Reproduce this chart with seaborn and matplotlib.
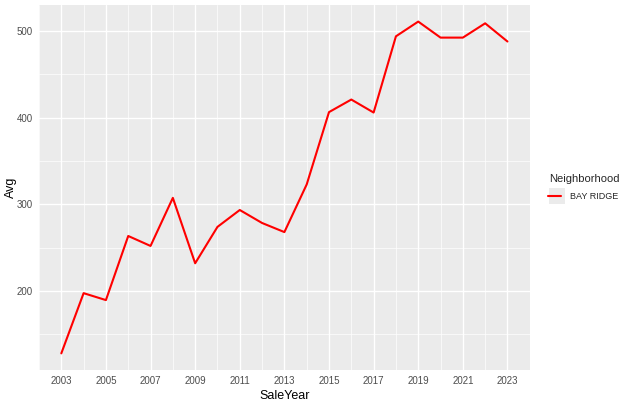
import matplotlib
matplotlib.use("Agg")
import matplotlib.pyplot as plt
from matplotlib.ticker import MultipleLocator
from matplotlib.legend_handler import HandlerLine2D
from matplotlib.patches import Rectangle
import seaborn as sns
import pandas as pd

years = list(range(2003, 2024))
avg = [128, 197.5, 189.5, 263.5, 252, 307.5, 232, 274, 293.5, 278.5, 268,
       323, 406.5, 421, 406, 494, 511, 492.5, 492.5, 509, 488]
neighborhood = ["BAY RIDGE"] * len(years)

df = pd.DataFrame({"SaleYear": years, "Avg": avg, "Neighborhood": neighborhood})


class KeyWithBox(HandlerLine2D):
    # ggplot style legend key: grey square behind the line
    def create_artists(self, legend, orig_handle, xdescent, ydescent,
                       width, height, fontsize, trans):
        side = width
        box = Rectangle((-xdescent, -ydescent + height / 2 - side / 2), side, side,
                        facecolor="#EBEBEB", edgecolor="none", transform=trans)
        arts = super().create_artists(legend, orig_handle, xdescent + 0.08 * width,
                                      ydescent, 0.84 * width, height, fontsize, trans)
        return [box] + list(arts)


sns.set_theme(style="darkgrid")
plt.rcParams["font.family"] = ["Liberation Sans", "DejaVu Sans"]

fig = plt.figure(figsize=(6.24, 4.03), dpi=100)
ax = fig.add_axes([0.0625, 0.082, 0.849 - 0.0625, 0.9876 - 0.082])
ax.set_facecolor("#EBEBEB")

sns.lineplot(data=df, x="SaleYear", y="Avg", hue="Neighborhood",
             palette=["#FF0000"], linewidth=1.5, ax=ax)

span_y = max(avg) - min(avg)
ax.set_ylim(min(avg) - 0.05 * span_y, max(avg) + 0.05 * span_y)
ax.set_xlim(2003 - 1, 2023 + 1)

ax.xaxis.set_minor_locator(MultipleLocator(2))
ax.yaxis.set_major_locator(MultipleLocator(100))
ax.yaxis.set_minor_locator(MultipleLocator(50))
ax.set_xticks(range(2003, 2024, 2))

ax.grid(which="major", color="white", linewidth=1.0)
ax.grid(which="minor", color="white", linewidth=0.5)
ax.set_axisbelow(True)
for s in ax.spines.values():
    s.set_visible(False)

ax.tick_params(which="major", length=2.5, width=0.8, color="#333333",
               labelsize=7, labelcolor="#4D4D4D", pad=2)
ax.tick_params(which="minor", length=0)
ax.set_xlabel("SaleYear", fontsize=9, color="black")
ax.set_ylabel("Avg", fontsize=9, color="black")
ax.xaxis.set_label_coords(0.5, -0.056)
ax.yaxis.set_label_coords(-0.045, 0.5)

handles, labels = ax.get_legend_handles_labels()
ax.legend_.remove()
leg = fig.legend(handles, labels, title="Neighborhood", loc="center left",
                 bbox_to_anchor=(0.874, 0.535), frameon=False,
                 fontsize=6.5, title_fontsize=8, handlelength=1.8,
                 handletextpad=0.5, borderaxespad=0, labelspacing=0.8,
                 handler_map={handles[0]: KeyWithBox()})
leg._legend_box.align = "left"
leg._legend_box.sep = 6
for line in leg.get_lines():
    line.set_linewidth(1.5)

fig.savefig("out.png", dpi=100)
plt.close(fig)
